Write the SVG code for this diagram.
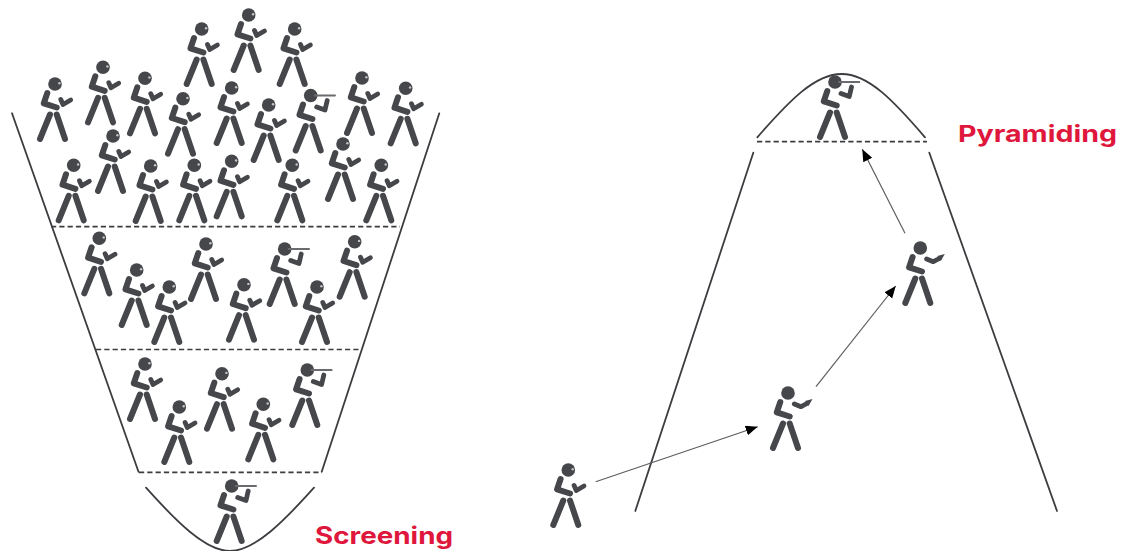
<svg xmlns="http://www.w3.org/2000/svg" width="1126" height="551" viewBox="0 0 1126 551">
<style>
.fig{fill:none;stroke:#45474b;stroke-width:6;stroke-linecap:round;stroke-linejoin:round}
.arm{stroke-width:4.8}
.head{fill:#45474b}
.glint{fill:#c4c5c7}
.wall{fill:none;stroke:#3c3d40;stroke-width:1.8;stroke-linecap:round}
.dash{fill:none;stroke:#3c3d40;stroke-width:1.7;stroke-dasharray:5.2 3.1}
.arrow{fill:none;stroke:#5c5d60;stroke-width:1.2;marker-end:url(#tip)}
.label{font-family:"Inter","Liberation Sans",sans-serif;font-weight:700;fill:#e0173c}
</style>
<defs>
<marker id="tip" markerUnits="userSpaceOnUse" markerWidth="14" markerHeight="12" refX="12" refY="5" orient="auto"><path d="M0 0L12 5L0 10Z" fill="#000"/></marker>
<g id="body">
<circle class="head" r="6.8"/>
<path class="fig" d="M-7.7 9L-11.2 19.3L1.7 23.5"/>
<path class="fig" d="M-5 30.5L-15 55"/>
<path class="fig" d="M1.7 30.5L10 55"/>
</g>
<g id="stand">
<use href="#body"/>
<circle class="glint" cx="4.4" cy="-0.8" r="1.2"/>
<path class="fig arm" d="M5.8 15.5L8 20.5L15.7 16"/>
</g>
<g id="scope">
<use href="#body"/>
<path d="M4 0L24.3 0" stroke="#6a6b6e" stroke-width="2" stroke-linecap="round"/>
<path class="fig arm" d="M16.5 5L14.3 14.5L6 11.5"/>
</g>
<g id="point">
<use href="#body"/>
<path class="fig arm" d="M6.3 11L13 13.7L19 10.5"/>
<path d="M17 8L24.5 6L20.5 13Z" fill="#45474b"/>
</g>
</defs>
<g id="walls">
<path class="wall" d="M12 113.3L138.5 471.7"/>
<path class="wall" d="M439.3 113.3L321.7 471.7"/>
<path class="wall" d="M146 487.7C175 520 205 551 230 551C255 551 285 520 314 487.7"/>
<path class="wall" d="M757.3 137.3C790 100 815 74 841.7 74C868 74 893 100 925 137.3"/>
<path class="wall" d="M753.3 152.7L635.3 511"/>
<path class="wall" d="M929.3 152.7L1057 511"/>
<path class="dash" d="M51 226.7H400"/>
<path class="dash" d="M96 349.5H361"/>
<path class="dash" d="M139 472.3H322"/>
<path class="dash" d="M757 141.7H927"/>
</g>
<g id="connectors">
<path class="arrow" d="M595.7 481.7L757.7 426.7"/>
<path class="arrow" d="M816 386.7L895.7 286"/>
<path class="arrow" d="M905 233.3L862.3 149.3"/>
</g>
<g id="p1"><use href="#stand" x="201.7" y="29"/></g>
<g id="p2"><use href="#stand" x="248.7" y="15"/></g>
<g id="p3"><use href="#stand" x="294.7" y="29"/></g>
<g id="p4"><use href="#stand" x="55" y="84"/></g>
<g id="p5"><use href="#stand" x="103" y="67.3"/></g>
<g id="p6"><use href="#stand" x="145" y="78.3"/></g>
<g id="p7"><use href="#stand" x="183" y="98.7"/></g>
<g id="p8"><use href="#stand" x="231.7" y="88"/></g>
<g id="p9"><use href="#stand" x="268.7" y="105"/></g>
<g id="p10"><use href="#scope" x="310.7" y="95.5"/></g>
<g id="p11"><use href="#stand" x="362" y="78"/></g>
<g id="p12"><use href="#stand" x="405.7" y="88.3"/></g>
<g id="p13"><use href="#stand" x="113" y="136"/></g>
<g id="p14"><use href="#stand" x="73.7" y="165.3"/></g>
<g id="p15"><use href="#stand" x="150.7" y="166"/></g>
<g id="p16"><use href="#stand" x="194.3" y="165.3"/></g>
<g id="p17"><use href="#stand" x="231.7" y="161.3"/></g>
<g id="p18"><use href="#stand" x="292.3" y="165.3"/></g>
<g id="p19"><use href="#stand" x="343" y="144"/></g>
<g id="p20"><use href="#stand" x="381.3" y="165.3"/></g>
<g id="p21"><use href="#stand" x="99.3" y="238.3"/></g>
<g id="p22"><use href="#stand" x="136.7" y="270"/></g>
<g id="p23"><use href="#stand" x="169.3" y="287"/></g>
<g id="p24"><use href="#stand" x="206" y="244"/></g>
<g id="p25"><use href="#stand" x="244" y="284.7"/></g>
<g id="p26"><use href="#scope" x="284.7" y="249"/></g>
<g id="p27"><use href="#stand" x="317" y="287"/></g>
<g id="p28"><use href="#stand" x="354.7" y="241.7"/></g>
<g id="p29"><use href="#stand" x="145" y="364"/></g>
<g id="p30"><use href="#stand" x="179.3" y="407"/></g>
<g id="p31"><use href="#stand" x="222" y="373.7"/></g>
<g id="p32"><use href="#stand" x="263.3" y="404.3"/></g>
<g id="p33"><use href="#scope" x="307.3" y="370"/></g>
<g id="p34"><use href="#scope" x="231.7" y="486"/></g>
<g id="p35"><use href="#scope" x="835" y="82"/></g>
<g id="p36"><use href="#point" x="920.3" y="248"/></g>
<g id="p37"><use href="#point" x="788" y="393"/></g>
<g id="p38"><use href="#stand" x="568.3" y="470"/></g>
<g id="label-screening"><text class="label" x="315" y="544" font-size="24" textLength="138" lengthAdjust="spacingAndGlyphs">Screening</text></g>
<g id="label-pyramiding"><text class="label" x="958" y="141.7" font-size="23" textLength="159" lengthAdjust="spacingAndGlyphs">Pyramiding</text></g>
</svg>
